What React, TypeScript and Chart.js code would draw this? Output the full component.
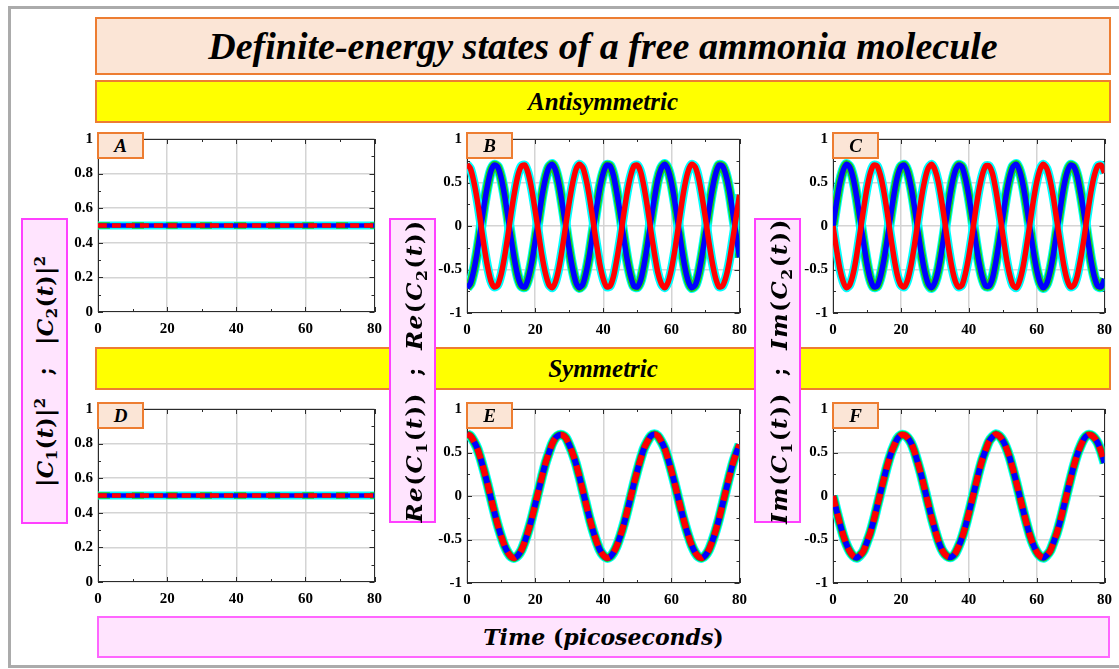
import React, { useEffect, useRef } from 'react';
import { Chart, registerables } from 'chart.js';

Chart.register(...registerables);

// ---------------- data ----------------
const TIME = [
  0, 1, 2, 3, 4, 5, 6, 7, 8, 9, 10, 11, 12, 13, 14, 15, 16, 17, 18, 19, 20,
  21, 22, 23, 24, 25, 26, 27, 28, 29, 30, 31, 32, 33, 34, 35, 36, 37, 38, 39, 40,
  41, 42, 43, 44, 45, 46, 47, 48, 49, 50, 51, 52, 53, 54, 55, 56, 57, 58, 59, 60,
  61, 62, 63, 64, 65, 66, 67, 68, 69, 70, 71, 72, 73, 74, 75, 76, 77, 78, 79, 80,
];
const PROB_TIME = [0, 80];

const ANTI_PROB_C1 = [0.5, 0.5];
const ANTI_PROB_C2 = [0.5, 0.5];
const SYM_PROB_C1 = [0.5, 0.5];
const SYM_PROB_C2 = [0.5, 0.5];

const ANTI_RE_C1 = [
  0.71, 0.66, 0.51, 0.30, 0.04, -0.23, -0.46, -0.63, -0.70, -0.68,
  -0.56, -0.36, -0.11, 0.16, 0.40, 0.59, 0.69, 0.70, 0.60, 0.42,
  0.18, -0.08, -0.34, -0.54, -0.67, -0.71, -0.64, -0.48, -0.25, 0.01,
  0.27, 0.49, 0.65, 0.71, 0.67, 0.53, 0.32, 0.06, -0.20, -0.44,
  -0.61, -0.70, -0.69, -0.58, -0.38, -0.14, 0.13, 0.38, 0.57, 0.69,
  0.70, 0.62, 0.44, 0.21, -0.06, -0.31, -0.53, -0.66, -0.71, -0.65,
  -0.50, -0.28, -0.02, 0.25, 0.48, 0.64, 0.71, 0.68, 0.55, 0.34,
  0.09, -0.18, -0.42, -0.60, -0.70, -0.69, -0.59, -0.41, -0.16, 0.10,
  0.36,
];
const ANTI_RE_C2 = [
  -0.71, -0.66, -0.51, -0.30, -0.04, 0.23, 0.46, 0.63, 0.70, 0.68,
  0.56, 0.36, 0.11, -0.16, -0.40, -0.59, -0.69, -0.70, -0.60, -0.42,
  -0.18, 0.08, 0.34, 0.54, 0.67, 0.71, 0.64, 0.48, 0.25, -0.01,
  -0.27, -0.49, -0.65, -0.71, -0.67, -0.53, -0.32, -0.06, 0.20, 0.44,
  0.61, 0.70, 0.69, 0.58, 0.38, 0.14, -0.13, -0.38, -0.57, -0.69,
  -0.70, -0.62, -0.44, -0.21, 0.06, 0.31, 0.53, 0.66, 0.71, 0.65,
  0.50, 0.28, 0.02, -0.25, -0.48, -0.64, -0.71, -0.68, -0.55, -0.34,
  -0.09, 0.18, 0.42, 0.60, 0.70, 0.69, 0.59, 0.41, 0.16, -0.10,
  -0.36,
];
const ANTI_IM_C1 = [
  0, -0.26, -0.49, -0.64, -0.71, -0.67, -0.54, -0.33, -0.07, 0.19,
  0.43, 0.61, 0.70, 0.69, 0.58, 0.39, 0.15, -0.12, -0.37, -0.57,
  -0.68, -0.70, -0.62, -0.45, -0.22, 0.05, 0.31, 0.52, 0.66, 0.71,
  0.65, 0.51, 0.29, 0.03, -0.24, -0.47, -0.63, -0.70, -0.68, -0.55,
  -0.35, -0.10, 0.17, 0.41, 0.59, 0.69, 0.69, 0.60, 0.41, 0.17,
  -0.09, -0.35, -0.55, -0.68, -0.71, -0.63, -0.47, -0.24, 0.02, 0.28,
  0.50, 0.65, 0.71, 0.66, 0.52, 0.31, 0.05, -0.21, -0.45, -0.62,
  -0.70, -0.68, -0.57, -0.37, -0.13, 0.14, 0.39, 0.58, 0.69, 0.70,
  0.61,
];
const ANTI_IM_C2 = [
  0, 0.26, 0.49, 0.64, 0.71, 0.67, 0.54, 0.33, 0.07, -0.19,
  -0.43, -0.61, -0.70, -0.69, -0.58, -0.39, -0.15, 0.12, 0.37, 0.57,
  0.68, 0.70, 0.62, 0.45, 0.22, -0.05, -0.31, -0.52, -0.66, -0.71,
  -0.65, -0.51, -0.29, -0.03, 0.24, 0.47, 0.63, 0.70, 0.68, 0.55,
  0.35, 0.10, -0.17, -0.41, -0.59, -0.69, -0.69, -0.60, -0.41, -0.17,
  0.09, 0.35, 0.55, 0.68, 0.71, 0.63, 0.47, 0.24, -0.02, -0.28,
  -0.50, -0.65, -0.71, -0.66, -0.52, -0.31, -0.05, 0.21, 0.45, 0.62,
  0.70, 0.68, 0.57, 0.37, 0.13, -0.14, -0.39, -0.58, -0.69, -0.70,
  -0.61,
];
const SYM_RE_C1 = [
  0.71, 0.69, 0.63, 0.55, 0.43, 0.29, 0.14, -0.02, -0.18, -0.33,
  -0.46, -0.57, -0.65, -0.70, -0.71, -0.68, -0.62, -0.52, -0.40, -0.26,
  -0.10, 0.06, 0.22, 0.37, 0.49, 0.60, 0.67, 0.70, 0.70, 0.67,
  0.59, 0.49, 0.37, 0.22, 0.06, -0.10, -0.26, -0.40, -0.52, -0.62,
  -0.68, -0.71, -0.70, -0.65, -0.57, -0.46, -0.33, -0.18, -0.02, 0.14,
  0.29, 0.43, 0.55, 0.63, 0.69, 0.71, 0.69, 0.63, 0.55, 0.43,
  0.29, 0.14, -0.02, -0.18, -0.33, -0.46, -0.57, -0.65, -0.70, -0.71,
  -0.68, -0.62, -0.52, -0.40, -0.26, -0.10, 0.06, 0.22, 0.37, 0.49,
  0.59,
];
const SYM_RE_C2 = SYM_RE_C1;
const SYM_IM_C1 = [
  0, -0.16, -0.31, -0.45, -0.56, -0.64, -0.69, -0.71, -0.68, -0.63,
  -0.53, -0.42, -0.28, -0.12, 0.04, 0.20, 0.35, 0.48, 0.58, 0.66,
  0.70, 0.70, 0.67, 0.61, 0.51, 0.38, 0.24, 0.08, -0.08, -0.24,
  -0.38, -0.51, -0.61, -0.67, -0.70, -0.70, -0.66, -0.58, -0.48, -0.35,
  -0.20, -0.04, 0.12, 0.28, 0.42, 0.53, 0.63, 0.68, 0.71, 0.69,
  0.64, 0.56, 0.45, 0.31, 0.16, 0, -0.16, -0.31, -0.45, -0.56,
  -0.64, -0.69, -0.71, -0.68, -0.63, -0.53, -0.42, -0.28, -0.12, 0.04,
  0.20, 0.35, 0.48, 0.58, 0.66, 0.70, 0.70, 0.67, 0.61, 0.51,
  0.38,
];
const SYM_IM_C2 = SYM_IM_C1;

const X_TICKS = [0, 20, 40, 60, 80];
const X_MINOR = [10, 30, 50, 70];
const PROB_TICKS = [0, 0.2, 0.4, 0.6, 0.8, 1];
const PROB_MINOR = [0.1, 0.3, 0.5, 0.7, 0.9];
const AMP_TICKS = [-1, -0.5, 0, 0.5, 1];
const AMP_MINOR = [-0.75, -0.25, 0.25, 0.75];

// ---------------- styling ----------------
const CYAN = '#00FFFF';
const GREEN = '#1ED21E';
const BLUE = '#0000FF';
const RED = '#FF0000';
const Y_AXIS_W = 45;
const PAD_T = 12;
const PAD_R = 12;
const X_AXIS_H = 28;
const TICK_FONT = { family: '"Liberation Serif", serif', weight: 'bold', size: 15 } as any;

type Panel = {
  id: string; left: number; top: number; right: number; bottom: number;
  kind: 'prob' | 'amp'; mode: 'flat' | 'split' | 'overlay';
  xs: number[]; c1: number[]; c2: number[];
};

const PANELS: Panel[] = [
  { id: 'A', left: 98, top: 137, right: 378, bottom: 312, kind: 'prob', mode: 'flat', xs: PROB_TIME, c1: ANTI_PROB_C1, c2: ANTI_PROB_C2 },
  { id: 'B', left: 467, top: 137, right: 743, bottom: 313, kind: 'amp', mode: 'split', xs: TIME, c1: ANTI_RE_C1, c2: ANTI_RE_C2 },
  { id: 'C', left: 833, top: 137, right: 1108, bottom: 313, kind: 'amp', mode: 'split', xs: TIME, c1: ANTI_IM_C1, c2: ANTI_IM_C2 },
  { id: 'D', left: 98, top: 407, right: 378, bottom: 582, kind: 'prob', mode: 'flat', xs: PROB_TIME, c1: SYM_PROB_C1, c2: SYM_PROB_C2 },
  { id: 'E', left: 467, top: 407, right: 743, bottom: 583, kind: 'amp', mode: 'overlay', xs: TIME, c1: SYM_RE_C1, c2: SYM_RE_C2 },
  { id: 'F', left: 833, top: 407, right: 1108, bottom: 583, kind: 'amp', mode: 'overlay', xs: TIME, c1: SYM_IM_C1, c2: SYM_IM_C2 },
];

function line(xs: number[], ys: number[], color: string, width: number, dash: number[] = []) {
  return {
    data: xs.map((x, i) => ({ x, y: ys[i] })),
    borderColor: color,
    backgroundColor: color,
    borderWidth: width,
    borderDash: dash,
    borderCapStyle: 'butt',
    borderJoinStyle: 'round',
    pointRadius: 0,
    fill: false,
    tension: 0.25,
    clip: 0,
  };
}

function buildDatasets(p: Panel) {
  let layers: any[];
  if (p.mode === 'split') {
    layers = [
      line(p.xs, p.c2, CYAN, 10.5),
      line(p.xs, p.c2, GREEN, 8.5),
      line(p.xs, p.c1, CYAN, 9),
      line(p.xs, p.c2, BLUE, 5.5),
      line(p.xs, p.c1, RED, 5.5),
    ];
  } else if (p.mode === 'flat') {
    layers = [
      line(p.xs, p.c1, CYAN, 8),
      line(p.xs, p.c2, GREEN, 6.5, [12, 22]),
      line(p.xs, p.c2, BLUE, 4.5),
      line(p.xs, p.c1, RED, 4.5, [9, 5]),
    ];
  } else {
    layers = [
      line(p.xs, p.c1, CYAN, 10),
      line(p.xs, p.c2, GREEN, 8),
      line(p.xs, p.c2, BLUE, 6),
      line(p.xs, p.c1, RED, 6, [11, 7]),
    ];
  }
  // first layer at the bottom, last on top
  return layers.map((d, i) => ({ ...d, order: layers.length - i }));
}

const matlabBox = {
  id: 'matlabBox',
  beforeDatasetsDraw(chart: any, _args: any, opts: any) {
    const { ctx, chartArea, scales } = chart;
    const { left, right, top, bottom } = chartArea;
    const x = scales.x;
    const y = scales.y;
    ctx.save();
    ctx.strokeStyle = '#2b2b2b';
    ctx.lineWidth = 1;
    ctx.beginPath();
    const xt = (vals: number[], len: number) => {
      for (const v of vals) {
        const px = Math.round(x.getPixelForValue(v)) + 0.5;
        ctx.moveTo(px, bottom); ctx.lineTo(px, bottom - len);
        ctx.moveTo(px, top); ctx.lineTo(px, top + len);
      }
    };
    const yt = (vals: number[], len: number) => {
      for (const v of vals) {
        const py = Math.round(y.getPixelForValue(v)) + 0.5;
        ctx.moveTo(left, py); ctx.lineTo(left + len, py);
        ctx.moveTo(right, py); ctx.lineTo(right - len, py);
      }
    };
    xt(opts.xMajor, 5); xt(opts.xMinor, 3);
    yt(opts.yMajor, 5); yt(opts.yMinor, 3);
    ctx.stroke();
    ctx.strokeRect(Math.round(left) + 0.5, Math.round(top) + 0.5, Math.round(right - left) - 1, Math.round(bottom - top) - 1);
    ctx.restore();
  },
};

function fmt(v: number) {
  const r = Math.round(v * 100) / 100;
  return String(r);
}

function PlotPanel({ p }: { p: Panel }) {
  const ref = useRef<HTMLCanvasElement | null>(null);
  const w = p.right - p.left + Y_AXIS_W + PAD_R;
  const h = p.bottom - p.top + PAD_T + X_AXIS_H;
  useEffect(() => {
    const isProb = p.kind === 'prob';
    const yTicks = isProb ? PROB_TICKS : AMP_TICKS;
    const chart = new Chart(ref.current as HTMLCanvasElement, {
      type: 'line',
      data: { datasets: buildDatasets(p) as any },
      options: {
        responsive: false,
        animation: false,
        devicePixelRatio: 1,
        events: [],
        layout: { padding: { left: 0, top: PAD_T, right: PAD_R, bottom: 0 } },
        plugins: {
          legend: { display: false },
          tooltip: { enabled: false },
          matlabBox: { xMajor: X_TICKS, xMinor: X_MINOR, yMajor: yTicks, yMinor: isProb ? PROB_MINOR : AMP_MINOR },
        } as any,
        scales: {
          x: {
            type: 'linear', min: 0, max: 80,
            afterBuildTicks: (s: any) => { s.ticks = X_TICKS.map((v) => ({ value: v })); },
            afterFit: (s: any) => { s.height = X_AXIS_H; },
            grid: { color: '#d4d4d4', lineWidth: 1.5, drawTicks: false },
            border: { display: false },
            ticks: { padding: 8, font: TICK_FONT, color: '#000', maxRotation: 0, autoSkip: false, callback: (v: any) => fmt(Number(v)) },
          },
          y: {
            type: 'linear', min: isProb ? 0 : -1, max: 1,
            afterBuildTicks: (s: any) => { s.ticks = yTicks.map((v) => ({ value: v })); },
            afterFit: (s: any) => { s.width = Y_AXIS_W; },
            grid: { color: '#d4d4d4', lineWidth: 1.5, drawTicks: false },
            border: { display: false },
            ticks: { padding: 5, font: TICK_FONT, color: '#000', autoSkip: false, callback: (v: any) => fmt(Number(v)) },
          },
        } as any,
      },
      plugins: [matlabBox as any],
    });
    return () => chart.destroy();
  }, []);
  return (
    <canvas
      ref={ref}
      width={w}
      height={h}
      style={{ position: 'absolute', left: p.left - Y_AXIS_W, top: p.top - PAD_T, width: w, height: h }}
    />
  );
}

// ---------------- text helpers ----------------
const MATH_FONT = '"DejaVu Serif", serif';
const I = ({ children }: { children: any }) => <span style={{ fontStyle: 'italic', fontWeight: 'bold' }}>{children}</span>;
const Sub = ({ children }: { children: any }) => (
  <span style={{ fontSize: '0.68em', position: 'relative', top: '0.3em', fontStyle: 'normal' }}>{children}</span>
);
const Sup = ({ children }: { children: any }) => (
  <span style={{ fontSize: '0.68em', position: 'relative', top: '-0.55em', fontStyle: 'normal' }}>{children}</span>
);
const Sep = ({ m }: { m: number }) => <span style={{ margin: `0 ${m}px` }}>;</span>;

function PinkLabel({ left, top, width, height, size, spacing, children }: any) {
  return (
    <div
      style={{
        position: 'absolute', left, top, width, height, boxSizing: 'border-box',
        background: '#FFE4FE', border: '2px solid #FF40FF',
      }}
    >
      <span
        style={{
          position: 'absolute', left: '50%', top: '50%', whiteSpace: 'nowrap',
          transform: 'translate(-50%, -50%) rotate(-90deg)',
          font: `bold ${size}px ${MATH_FONT}`, color: '#000', lineHeight: '1', letterSpacing: spacing,
        }}
      >
        {children}
      </span>
    </div>
  );
}

const peach = '#FBE5D6';
const orange = '#ED7D31';

export default function App() {
  return (
    <div style={{ position: 'absolute', left: 0, top: 0, width: 1119, height: 669, overflow: 'hidden', background: '#fff' }}>
      <div
        style={{
          position: 'absolute', left: 8, top: 6, width: 1200, height: 662, boxSizing: 'border-box',
          border: '3px solid #ABABAB',
        }}
      />
      <div
        style={{
          position: 'absolute', left: 95, top: 17, width: 1016, height: 58, boxSizing: 'border-box',
          background: peach, border: `2px solid ${orange}`, display: 'flex', alignItems: 'center', justifyContent: 'center',
          font: 'italic bold 38px "Liberation Serif", serif', color: '#000',
        }}
      >
        Definite-energy states of a free ammonia molecule
      </div>
      {[{ t: 80, label: 'Antisymmetric' }, { t: 347, label: 'Symmetric' }].map((b) => (
        <div
          key={b.label}
          style={{
            position: 'absolute', left: 95, top: b.t, width: 1016, height: 43, boxSizing: 'border-box',
            background: '#FFFF00', border: `2px solid ${orange}`, display: 'flex', alignItems: 'center', justifyContent: 'center',
            font: 'italic bold 25px "Liberation Serif", serif', color: '#000',
          }}
        >
          {b.label}
        </div>
      ))}

      {PANELS.map((p) => <PlotPanel key={p.id} p={p} />)}

      {PANELS.map((p) => (
        <div
          key={'lbl' + p.id}
          style={{
            position: 'absolute', left: p.left - 1, top: p.top - 5, width: 47, height: 27, boxSizing: 'border-box',
            background: peach, border: `2px solid ${orange}`, display: 'flex', alignItems: 'center', justifyContent: 'center',
            font: 'italic bold 19px "Liberation Serif", serif', color: '#000',
          }}
        >
          {p.id}
        </div>
      ))}

      <PinkLabel left={21} top={218} width={47} height={306} size={22} spacing="0.5px">
        |<I>C</I><Sub>1</Sub>(<I>t</I>)|<Sup>2</Sup><Sep m={22} />|<I>C</I><Sub>2</Sub>(<I>t</I>)|<Sup>2</Sup>
      </PinkLabel>
      <PinkLabel left={389} top={218} width={47} height={305} size={23} spacing="1.5px">
        <I>Re</I>(<I>C</I><Sub>1</Sub>(<I>t</I>))<Sep m={16} /><I>Re</I>(<I>C</I><Sub>2</Sub>(<I>t</I>))
      </PinkLabel>
      <PinkLabel left={754} top={218} width={47} height={305} size={23} spacing="1.5px">
        <I>Im</I>(<I>C</I><Sub>1</Sub>(<I>t</I>))<Sep m={16} /><I>Im</I>(<I>C</I><Sub>2</Sub>(<I>t</I>))
      </PinkLabel>

      <div
        style={{
          position: 'absolute', left: 97, top: 616, width: 1013, height: 42, boxSizing: 'border-box',
          background: '#FFE4FE', border: '2px solid #FF66FF', display: 'flex', alignItems: 'center', justifyContent: 'center',
          font: `bold 22px ${MATH_FONT}`, color: '#000',
        }}
      >
        <I>Time</I>&nbsp;(<I>picoseconds</I>)
      </div>
    </div>
  );
}
